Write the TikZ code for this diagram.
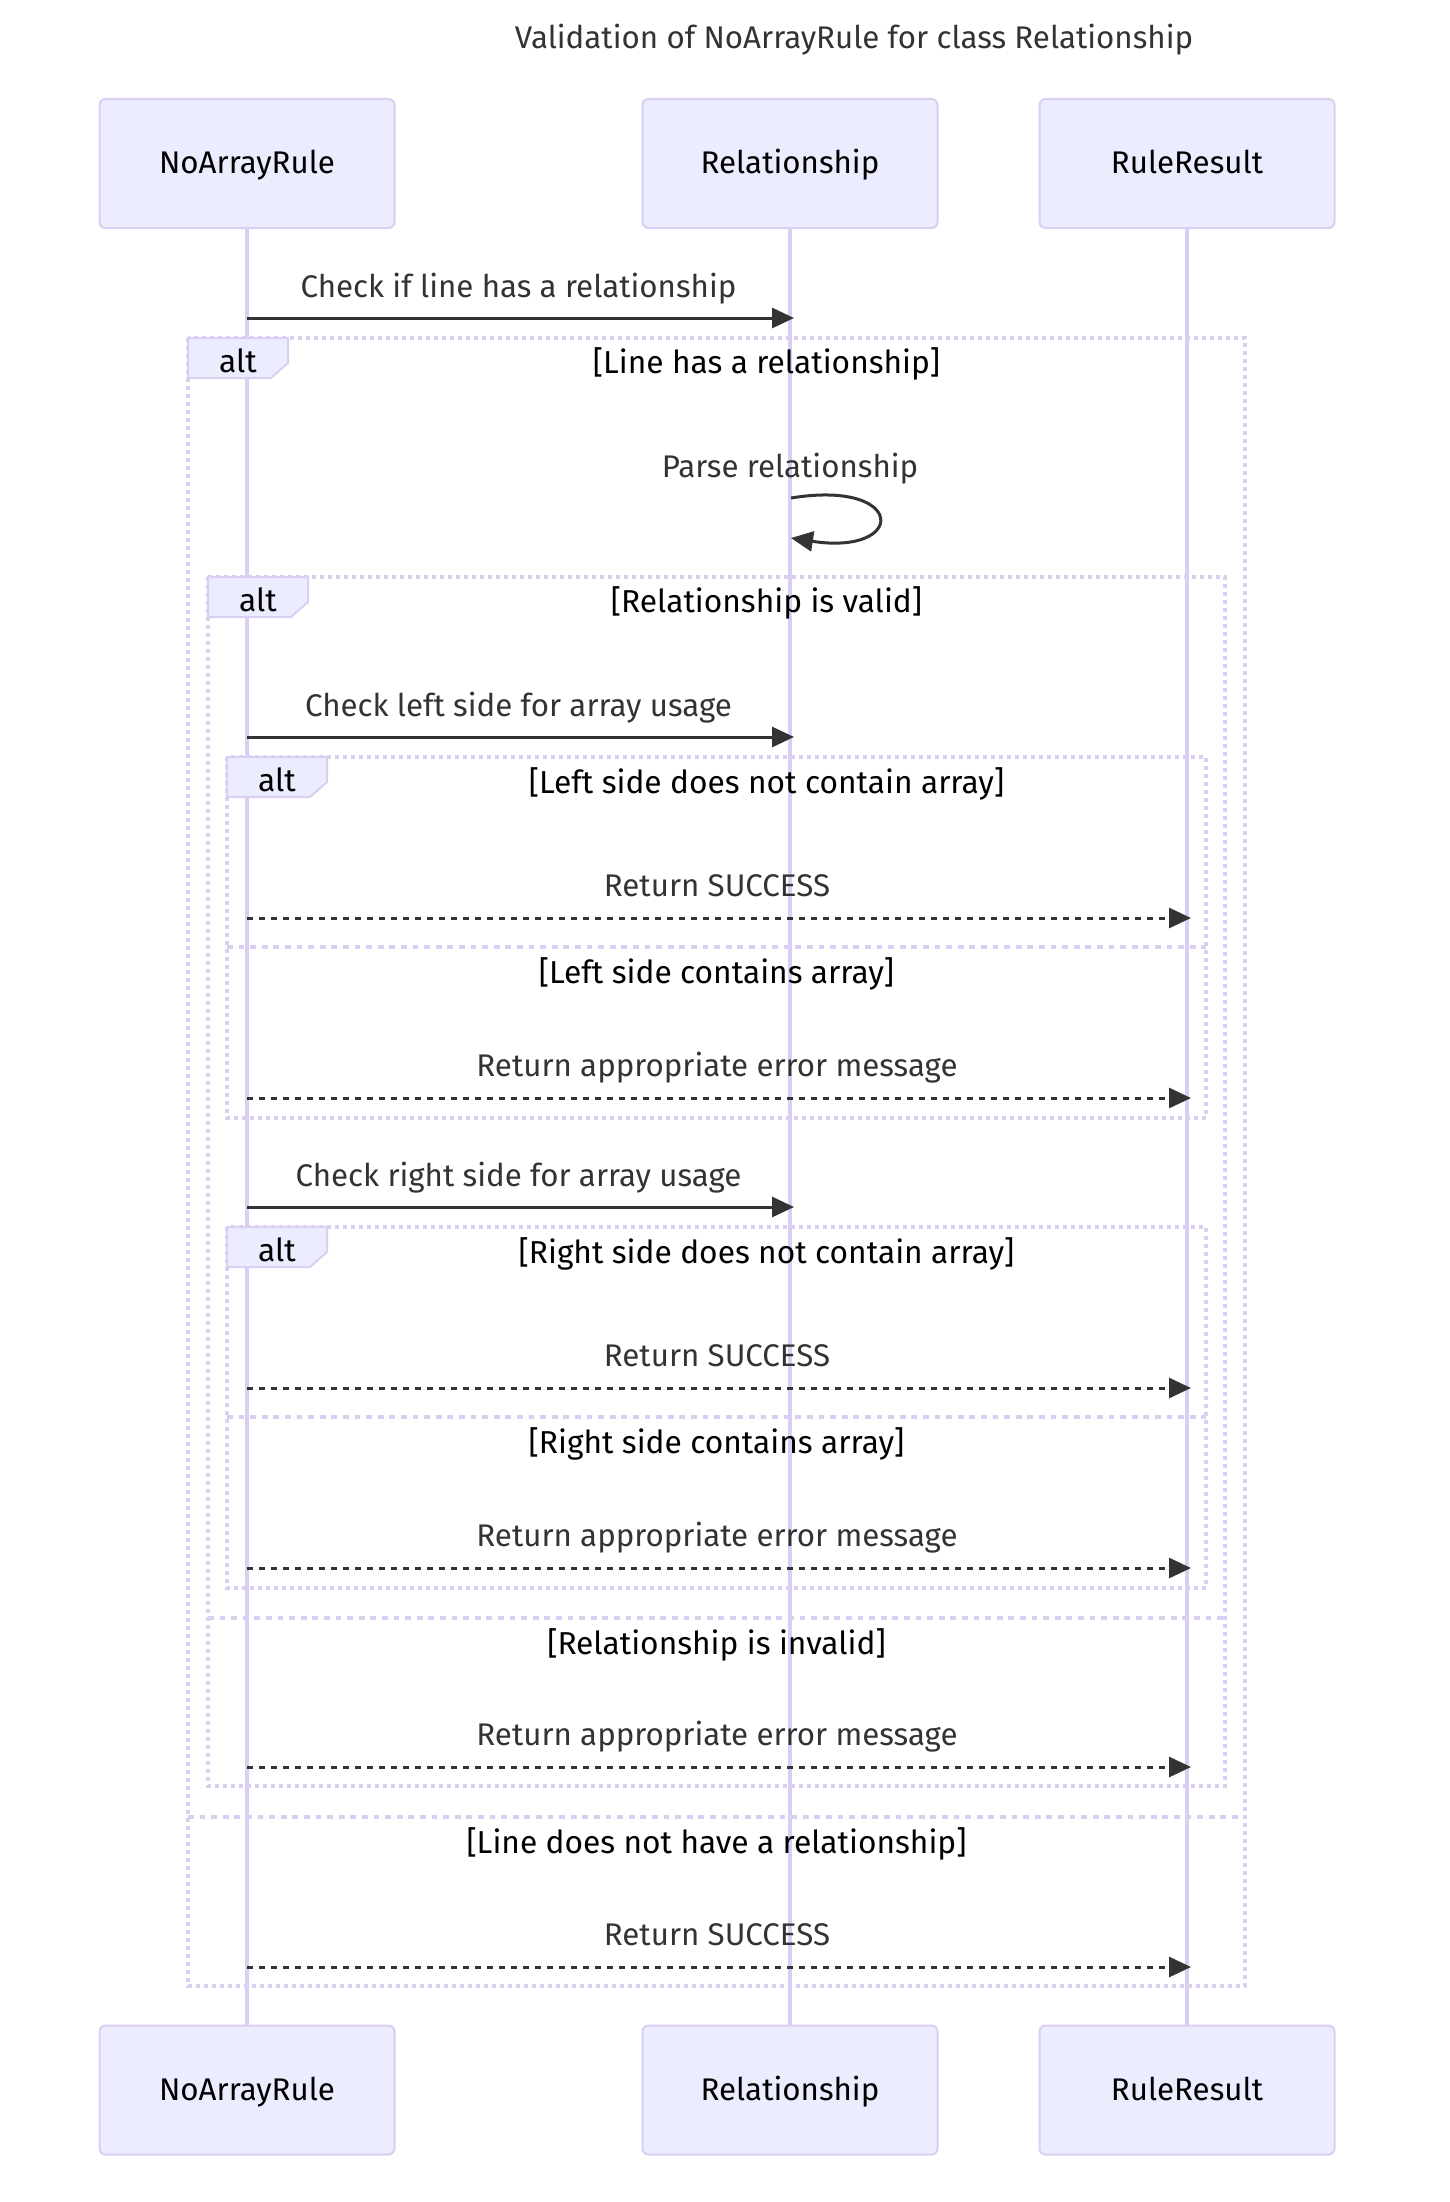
\documentclass[tikz,border=0pt]{standalone}
\usepackage{fontspec}
\setmainfont{Fira Sans}
\usetikzlibrary{arrows.meta}
\definecolor{lborder}{HTML}{DACEF3}
\definecolor{actorfill}{HTML}{ECECFF}
\definecolor{msgcol}{HTML}{333333}
\tikzset{
  txt/.style={font=\fontsize{31.3}{37}\selectfont, inner sep=0pt},
  actor/.style={txt, draw=lborder, fill=actorfill, line width=2pt, rounded corners=6pt,
    minimum width=295pt, minimum height=129pt, text=black, text height=21pt, text depth=0pt},
  lifeline/.style={draw=lborder, line width=3.5pt},
  msgsolid/.style={draw=msgcol, line width=3pt, -{Triangle[length=22pt,width=20pt]}},
  msgdash/.style={msgsolid, dash pattern=on 6pt off 6pt},
  loopline/.style={draw=lborder, line width=3.5pt, dash pattern=on 3.8pt off 4.2pt},
  divline/.style={draw=lborder, line width=3.5pt, dash pattern=on 5.8pt off 5.8pt},
  labelbox/.style={draw=lborder, fill=actorfill, line width=2pt},
  msgtxt/.style={txt, text=msgcol, anchor=base},
  condtxt/.style={txt, font=\fontsize{31.7}{37}\selectfont, text=black, anchor=base},
}
\begin{document}
\begin{tikzpicture}[x=1pt,y=-1pt]
\useasboundingbox (0,0) rectangle (1450,2202);
% title
\node[msgtxt] (title) at (854,49) {Validation of NoArrayRule for class Relationship};
% actors
\node[actor] (t1) at (247,163.5) {NoArrayRule};
\node[actor] (t2) at (790,163.5) {Relationship};
\node[actor] (t3) at (1187,163.5) {RuleResult};
\node[actor] (b1) at (247,2090) {NoArrayRule};
\node[actor] (b2) at (790,2090) {Relationship};
\node[actor] (b3) at (1187,2090) {RuleResult};
% lifelines
\draw[lifeline] (t1.south) -- (b1.north);
\draw[lifeline] (t2.south) -- (b2.north);
\draw[lifeline] (t3.south) -- (b3.north);
% alt boxes
\draw[loopline] (188,338) rectangle (1245,1986);
\draw[divline] (188,1817) -- (1245,1817);
\draw[loopline] (208,577) rectangle (1225,1786);
\draw[divline] (208,1618) -- (1225,1618);
\draw[loopline] (227,757) rectangle (1206,1118);
\draw[divline] (227,947) -- (1206,947);
\draw[loopline] (227,1227) rectangle (1206,1588);
\draw[divline] (227,1417) -- (1206,1417);
% label boxes
\draw[labelbox] (188,338) -- ++(100,0) -- ++(0,25) -- ++(-17,15) -- ++(-83,0) -- cycle;
\draw[labelbox] (208,577) -- ++(100,0) -- ++(0,25) -- ++(-17,15) -- ++(-83,0) -- cycle;
\draw[labelbox] (227,757) -- ++(100,0) -- ++(0,25) -- ++(-17,15) -- ++(-83,0) -- cycle;
\draw[labelbox] (227,1227) -- ++(100,0) -- ++(0,25) -- ++(-17,15) -- ++(-83,0) -- cycle;
\node[condtxt] (a1) at (238,372) {alt};
\node[condtxt] (a2) at (258,611) {alt};
\node[condtxt] (a3) at (277,791) {alt};
\node[condtxt] (a4) at (277,1261) {alt};
% conditions
\node[condtxt] (c1) at (766.5,373) {[Line has a relationship]};
\node[condtxt] (c2) at (766.5,612) {[Relationship is valid]};
\node[condtxt] (c3) at (766.5,793) {[Left side does not contain array]};
\node[condtxt] (c3e) at (716.5,983) {[Left side contains array]};
\node[condtxt] (c4) at (766.5,1263) {[Right side does not contain array]};
\node[condtxt] (c4e) at (716.5,1453) {[Right side contains array]};
\node[condtxt] (c2e) at (716.5,1654) {[Relationship is invalid]};
\node[condtxt] (c1e) at (716.5,1853) {[Line does not have a relationship]};
% message end points
\coordinate (m1s) at (247,318);  \coordinate (m1e) at (794,318);
\coordinate (ps) at (791,498);   \coordinate (pe) at (791,538);
\coordinate (m3s) at (247,737);  \coordinate (m3e) at (794,737);
\coordinate (m4s) at (247,918);  \coordinate (m4e) at (1191,918);
\coordinate (m5s) at (247,1098); \coordinate (m5e) at (1191,1098);
\coordinate (m6s) at (247,1207); \coordinate (m6e) at (794,1207);
\coordinate (m7s) at (247,1388); \coordinate (m7e) at (1191,1388);
\coordinate (m8s) at (247,1568); \coordinate (m8e) at (1191,1568);
\coordinate (m9s) at (247,1767); \coordinate (m9e) at (1191,1767);
\coordinate (m10s) at (247,1967); \coordinate (m10e) at (1191,1967);
% messages
\draw[msgsolid] (m1s) -- (m1e);
\draw[msgsolid] (ps) .. controls (907,479) and (907,556) .. (pe);
\draw[msgsolid] (m3s) -- (m3e);
\draw[msgdash] (m4s) -- (m4e);
\draw[msgdash] (m5s) -- (m5e);
\draw[msgsolid] (m6s) -- (m6e);
\draw[msgdash] (m7s) -- (m7e);
\draw[msgdash] (m8s) -- (m8e);
\draw[msgdash] (m9s) -- (m9e);
\draw[msgdash] (m10s) -- (m10e);
% message labels
\node[msgtxt] (l1) at (518.5,297) {Check if line has a relationship};
\node[msgtxt] (l2) at (790,477) {Parse relationship};
\node[msgtxt] (l3) at (518.5,716) {Check left side for array usage};
\node[msgtxt] (l4) at (717,896) {Return SUCCESS};
\node[msgtxt] (l5) at (717,1076) {Return appropriate error message};
\node[msgtxt] (l6) at (518.5,1186) {Check right side for array usage};
\node[msgtxt] (l7) at (717,1366) {Return SUCCESS};
\node[msgtxt] (l8) at (717,1546) {Return appropriate error message};
\node[msgtxt] (l9) at (717,1745) {Return appropriate error message};
\node[msgtxt] (l10) at (717,1945) {Return SUCCESS};
\end{tikzpicture}
\end{document}
